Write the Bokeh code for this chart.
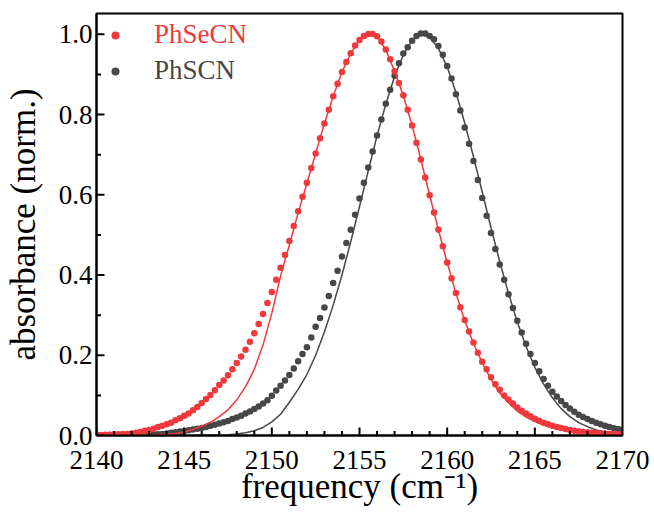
import numpy as np
from bokeh.plotting import figure
from bokeh.models import (Range1d, FixedTicker, PrintfTickFormatter,
                          Legend, LegendItem, ColumnDataSource)
from bokeh.embed import file_html
from bokeh.resources import INLINE

# ---------------- data ----------------
# measured points: frequency grid 2140 ... 2170 cm-1, step 0.25
freq_pts = np.linspace(2140.0, 2170.0, 121)

phsecn_pts = [
    0.001, 0.001, 0.002, 0.002, 0.003, 0.003, 0.004, 0.004, 0.005, 0.007,
    0.009, 0.012, 0.014, 0.017, 0.021, 0.024, 0.028, 0.032, 0.038, 0.043,
    0.049, 0.055, 0.063, 0.071, 0.081, 0.091, 0.101, 0.113, 0.126, 0.137,
    0.150, 0.165, 0.181, 0.197, 0.214, 0.234, 0.255, 0.278, 0.303, 0.330,
    0.358, 0.388, 0.418, 0.450, 0.485, 0.522, 0.559, 0.595, 0.630, 0.667,
    0.703, 0.741, 0.778, 0.812, 0.846, 0.877, 0.906, 0.931, 0.953, 0.972,
    0.986, 0.996, 1.001, 1.001, 0.995, 0.982, 0.962, 0.938, 0.908, 0.879,
    0.848, 0.812, 0.773, 0.730, 0.688, 0.643, 0.599, 0.556, 0.513, 0.472,
    0.431, 0.392, 0.355, 0.320, 0.288, 0.259, 0.232, 0.206, 0.184, 0.165,
    0.145, 0.128, 0.114, 0.100, 0.090, 0.080, 0.070, 0.062, 0.055, 0.048,
    0.042, 0.037, 0.032, 0.028, 0.024, 0.021, 0.019, 0.016, 0.014, 0.012,
    0.010, 0.009, 0.008, 0.007, 0.006, 0.005, 0.005, 0.004, 0.004, 0.003, 0.003,
]

phscn_pts = [
    0.000, 0.000, 0.000, 0.001, 0.001, 0.001, 0.001, 0.001, 0.001, 0.002,
    0.002, 0.002, 0.002, 0.003, 0.003, 0.004, 0.005, 0.007, 0.008, 0.010,
    0.011, 0.013, 0.015, 0.017, 0.019, 0.021, 0.024, 0.027, 0.030, 0.033,
    0.036, 0.041, 0.045, 0.049, 0.055, 0.060, 0.066, 0.072, 0.080, 0.088,
    0.099, 0.112, 0.124, 0.137, 0.151, 0.167, 0.185, 0.203, 0.220, 0.244,
    0.271, 0.293, 0.319, 0.348, 0.380, 0.411, 0.446, 0.480, 0.513, 0.550,
    0.591, 0.630, 0.668, 0.708, 0.748, 0.788, 0.827, 0.862, 0.897, 0.928,
    0.952, 0.968, 0.984, 0.996, 1.002, 1.002, 0.996, 0.988, 0.971, 0.949,
    0.921, 0.890, 0.851, 0.810, 0.768, 0.727, 0.684, 0.637, 0.592, 0.548,
    0.505, 0.465, 0.426, 0.388, 0.352, 0.318, 0.286, 0.257, 0.229, 0.203,
    0.181, 0.160, 0.141, 0.124, 0.109, 0.097, 0.086, 0.076, 0.067, 0.059,
    0.052, 0.046, 0.041, 0.036, 0.032, 0.028, 0.024, 0.021, 0.018, 0.016, 0.014,
]

# fitted curves: frequency grid 2140 ... 2170 cm-1, step 0.5
freq_fit = np.linspace(2140.0, 2170.0, 61)

phsecn_fit = [
    0.000, 0.000, 0.000, 0.000, 0.000, 0.001, 0.001, 0.002, 0.003, 0.005,
    0.009, 0.015, 0.023, 0.033, 0.047, 0.064, 0.089, 0.122, 0.165, 0.226,
    0.305, 0.398, 0.475, 0.555, 0.628, 0.703, 0.778, 0.846, 0.906, 0.953,
    0.986, 1.000, 0.995, 0.962, 0.908, 0.847, 0.773, 0.688, 0.599, 0.513,
    0.431, 0.355, 0.286, 0.230, 0.181, 0.140, 0.106, 0.081, 0.061, 0.046,
    0.035, 0.026, 0.019, 0.014, 0.010, 0.008, 0.006, 0.004, 0.003, 0.003,
    0.002,
]

phscn_fit = [
    0.000, 0.000, 0.000, 0.000, 0.000, 0.000, 0.000, 0.000, 0.000, 0.000,
    0.000, 0.000, 0.001, 0.001, 0.001, 0.002, 0.004, 0.007, 0.012, 0.020,
    0.034, 0.053, 0.083, 0.115, 0.152, 0.200, 0.258, 0.325, 0.400, 0.483,
    0.571, 0.660, 0.747, 0.826, 0.895, 0.949, 0.985, 1.000, 0.993, 0.965,
    0.919, 0.855, 0.779, 0.695, 0.607, 0.518, 0.433, 0.354, 0.283, 0.222,
    0.170, 0.128, 0.094, 0.067, 0.047, 0.032, 0.022, 0.014, 0.009, 0.006,
    0.004,
]

series_names = ["PhSeCN", "PhSCN"]

# tick positions
x_major_ticks = [2140, 2145, 2150, 2155, 2160, 2165, 2170]
x_minor_ticks = [2141, 2142, 2143, 2144, 2146, 2147, 2148, 2149,
                 2151, 2152, 2153, 2154, 2156, 2157, 2158, 2159,
                 2161, 2162, 2163, 2164, 2166, 2167, 2168, 2169]
y_major_ticks = [0.0, 0.2, 0.4, 0.6, 0.8, 1.0]
y_minor_ticks = [0.1, 0.3, 0.5, 0.7, 0.9]

X_MIN, X_MAX = 2140, 2170
Y_MIN, Y_MAX = 0.0, 1.052

# ---------------- layout / styling ----------------
RED = "#F0393C"
GRAY = "#474747"
FONT = "Liberation Serif"

W, H = 654, 514
B_LEFT, B_RIGHT, B_TOP, B_BOTTOM = 96, 32, 13, 79
FRAME_W = W - B_LEFT - B_RIGHT
FRAME_H = H - B_TOP - B_BOTTOM
MAJOR_PX, MINOR_PX = 8.0, 4.5
# pixel lengths expressed in data units of each axis
x_per_px = (X_MAX - X_MIN) / FRAME_W
y_per_px = (Y_MAX - Y_MIN) / FRAME_H

p = figure(width=W, height=H, output_backend="svg", toolbar_location=None,
           x_range=Range1d(X_MIN, X_MAX), y_range=Range1d(Y_MIN, Y_MAX),
           min_border_left=B_LEFT, min_border_right=B_RIGHT,
           min_border_top=B_TOP, min_border_bottom=B_BOTTOM)

p.xgrid.visible = False
p.ygrid.visible = False
p.outline_line_color = "black"
p.outline_line_width = 2
p.outline_line_alpha = 1.0
p.background_fill_color = "white"
p.border_fill_color = "white"

src_pts = ColumnDataSource(dict(x=freq_pts, se=phsecn_pts, s=phscn_pts))
src_fit = ColumnDataSource(dict(x=freq_fit, se=phsecn_fit, s=phscn_fit))

r_gray_pts = p.scatter("x", "s", source=src_pts, size=6.5, marker="circle",
                       fill_color=GRAY, line_color=None)
p.line("x", "s", source=src_fit, line_color=GRAY, line_width=1.5)
r_red_pts = p.scatter("x", "se", source=src_pts, size=6.5, marker="circle",
                      fill_color=RED, line_color=None)
p.line("x", "se", source=src_fit, line_color=RED, line_width=1.5)

# inward tick marks (the axes' own inward ticks are clipped away)
def x_ticks(vals, length_px):
    p.segment(x0=vals, y0=[Y_MIN] * len(vals), x1=vals,
              y1=[Y_MIN + length_px * y_per_px] * len(vals),
              line_color="black", line_width=2)

def y_ticks(vals, length_px):
    p.segment(x0=[X_MIN] * len(vals), y0=vals,
              x1=[X_MIN + length_px * x_per_px] * len(vals), y1=vals,
              line_color="black", line_width=2)

x_ticks(x_major_ticks, MAJOR_PX)
x_ticks(x_minor_ticks, MINOR_PX)
y_ticks(y_major_ticks, MAJOR_PX)
y_ticks(y_minor_ticks, MINOR_PX)

# axes
p.xaxis.ticker = FixedTicker(ticks=x_major_ticks)
p.yaxis.ticker = FixedTicker(ticks=y_major_ticks)
p.xaxis.formatter = PrintfTickFormatter(format="%d")
p.yaxis.formatter = PrintfTickFormatter(format="%.1f")
p.xaxis.axis_label = "frequency (cm\u207b\u00b9)"
p.yaxis.axis_label = "absorbance (norm.)"

for ax in (p.xaxis[0], p.yaxis[0]):
    ax.axis_line_width = 2
    ax.axis_line_color = "black"
    ax.major_tick_in = 0
    ax.major_tick_out = 0
    ax.minor_tick_in = 0
    ax.minor_tick_out = 0
    ax.major_label_text_font = FONT
    ax.major_label_text_font_size = "27px"
    ax.major_label_text_color = "black"
    ax.axis_label_text_font = FONT
    ax.axis_label_text_font_size = "35px"
    ax.axis_label_text_font_style = "normal"
    ax.axis_label_text_color = "black"

p.xaxis.major_label_standoff = 15
p.yaxis.major_label_standoff = 4
p.xaxis.axis_label_standoff = -5
p.yaxis.axis_label_standoff = 13

# legends (one per entry so each label keeps its series colour)
for name, rend, col, vy in ((series_names[0], r_red_pts, RED, 385),
                            (series_names[1], r_gray_pts, GRAY, 349)):
    lg = Legend(items=[LegendItem(label=name, renderers=[rend])],
                location=(9, vy), padding=0, margin=0,
                glyph_width=20, glyph_height=30, label_height=30,
                label_standoff=29, border_line_color=None,
                background_fill_alpha=0,
                label_text_font=FONT, label_text_font_size="27px",
                label_text_color=col)
    p.add_layout(lg, "center")

open("out.html", "w").write(file_html(p, INLINE))
